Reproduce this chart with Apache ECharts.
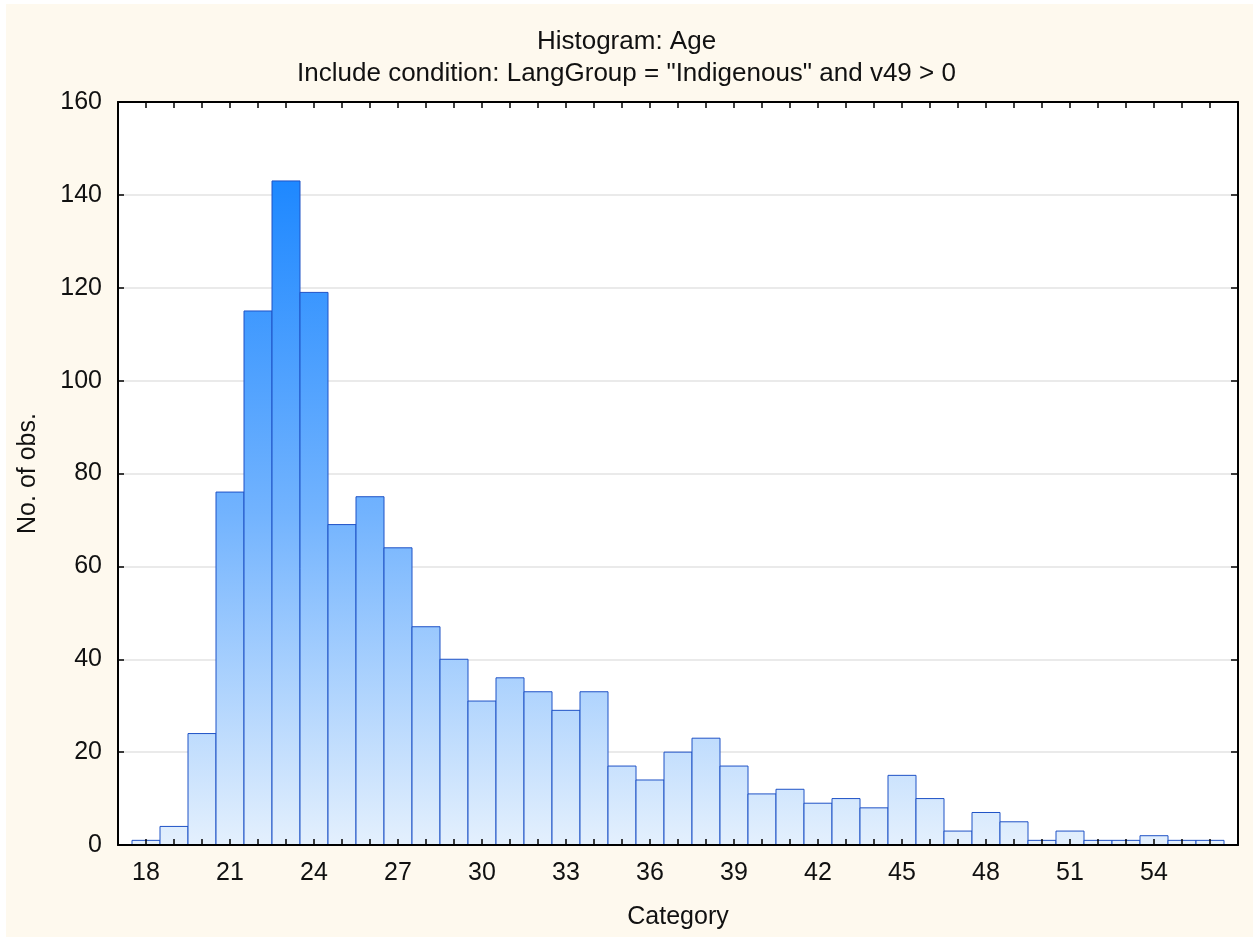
<!DOCTYPE html>
<html>
<head>
<meta charset="utf-8">
<script src="https://cdn.jsdelivr.net/npm/echarts@6/dist/echarts.min.js"></script>
<style>
html,body{margin:0;padding:0;background:#ffffff;overflow:hidden;}
#chart{width:1253px;height:938px;}
</style>
</head>
<body>
<div id="chart"></div>
<script>
// Data
const categories = [18,19,20,21,22,23,24,25,26,27,28,29,30,31,32,33,34,35,36,37,38,39,40,41,42,43,44,45,46,47,48,49,50,51,52,53,54,55,56];
const counts     = [1,4,24,76,115,143,119,69,75,64,47,40,31,36,33,29,33,17,14,20,23,17,11,12,9,10,8,15,10,3,7,5,1,3,1,1,2,1,1];
const xTickLabels = [18,21,24,27,30,33,36,39,42,45,48,51,54];
const yTicks = [0,20,40,60,80,100,120,140,160];
const titleText = 'Histogram: Age';
const subtitleText = 'Include condition: LangGroup = "Indigenous" and v49 > 0';
const xName = 'Category';
const yName = 'No. of obs.';

const FONT = 'Liberation Sans, Arial, Helvetica, sans-serif';
const chart = echarts.init(document.getElementById('chart'), null, {renderer:'canvas', width:1253, height:938});
const maxCount = Math.max.apply(null, counts);

const option = {
  animation: false,
  backgroundColor: '#ffffff',
  graphic: [{
    type: 'rect', z: -10, silent: true,
    shape: {x: 6, y: 4, width: 1253, height: 933},
    style: {fill: '#fef9ee'}
  }],
  title: [
    {text: titleText, left: 'center', top: 24,
     textStyle: {fontFamily: FONT, fontSize: 26, fontWeight: 'normal', color: '#111'}},
    {text: subtitleText, left: 'center', top: 56,
     textStyle: {fontFamily: FONT, fontSize: 26, fontWeight: 'normal', color: '#111'}}
  ],
  grid: {left: 118, right: 15, top: 102, bottom: 93, show: true, backgroundColor: '#ffffff', borderWidth: 0},
  xAxis: [
    {type: 'value', position: 'bottom', min: 17, max: 57, interval: 1, z: 10,
     name: xName, nameLocation: 'middle', nameGap: 60,
     nameTextStyle: {fontFamily: FONT, fontSize: 25, color: '#111'},
     axisLine: {show: true, onZero: false, lineStyle: {color: '#000', width: 2}},
     axisTick: {show: true, inside: true, length: 6, lineStyle: {color: '#000', width: 1.5}},
     axisLabel: {fontFamily: FONT, fontSize: 25, color: '#111', margin: 16,
       formatter: function(v){ return xTickLabels.indexOf(v) >= 0 ? String(v) : ''; }},
     splitLine: {show: false}},
    {type: 'value', position: 'top', min: 17, max: 57, interval: 1, z: 10,
     axisLine: {show: true, onZero: false, lineStyle: {color: '#000', width: 2}},
     axisTick: {show: true, inside: true, length: 6, lineStyle: {color: '#000', width: 1.5}},
     axisLabel: {show: false}, splitLine: {show: false}}
  ],
  yAxis: [
    {type: 'value', position: 'left', min: yTicks[0], max: yTicks[yTicks.length-1], interval: 20,
     name: yName, nameLocation: 'middle', nameGap: 77, nameRotate: 90,
     nameTextStyle: {fontFamily: FONT, fontSize: 25, color: '#111'},
     axisLine: {show: true, onZero: false, lineStyle: {color: '#000', width: 2}},
     axisTick: {show: true, inside: true, length: 6, lineStyle: {color: '#000', width: 1.5}},
     axisLabel: {fontFamily: FONT, fontSize: 25, color: '#111', margin: 16},
     splitLine: {show: true, lineStyle: {color: '#e3e3e3', width: 1.5}}},
    {type: 'value', position: 'right', min: yTicks[0], max: yTicks[yTicks.length-1], interval: 20, z: 10,
     axisLine: {show: true, onZero: false, lineStyle: {color: '#000', width: 2}},
     axisTick: {show: true, inside: true, length: 7, lineStyle: {color: '#000', width: 1.5}},
     axisLabel: {show: false}, splitLine: {show: false}}
  ],
  series: [{
    type: 'custom',
    xAxisIndex: 0, yAxisIndex: 0,
    data: categories.map(function(c, i){ return [c, counts[i]]; }),
    encode: {x: 0, y: 1},
    renderItem: function(params, api){
      const c = api.value(0), v = api.value(1);
      const p0 = api.coord([c - 0.5, 0]);
      const p1 = api.coord([c + 0.5, v]);
      const yTop = api.coord([c, maxCount])[1];
      return {
        type: 'rect',
        shape: {x: p0[0], y: p1[1], width: p1[0] - p0[0], height: p0[1] - p1[1]},
        style: {
          fill: {type: 'linear', x: 0, y: p0[1], x2: 0, y2: yTop, global: true,
            colorStops: [{offset: 0, color: '#e4f0fd'}, {offset: 0.5, color: '#72b3fe'}, {offset: 1, color: '#1e88ff'}]},
          stroke: '#1f52c6', lineWidth: 1
        }
      };
    }
  }]
};
chart.setOption(option);
</script>
</body>
</html>
